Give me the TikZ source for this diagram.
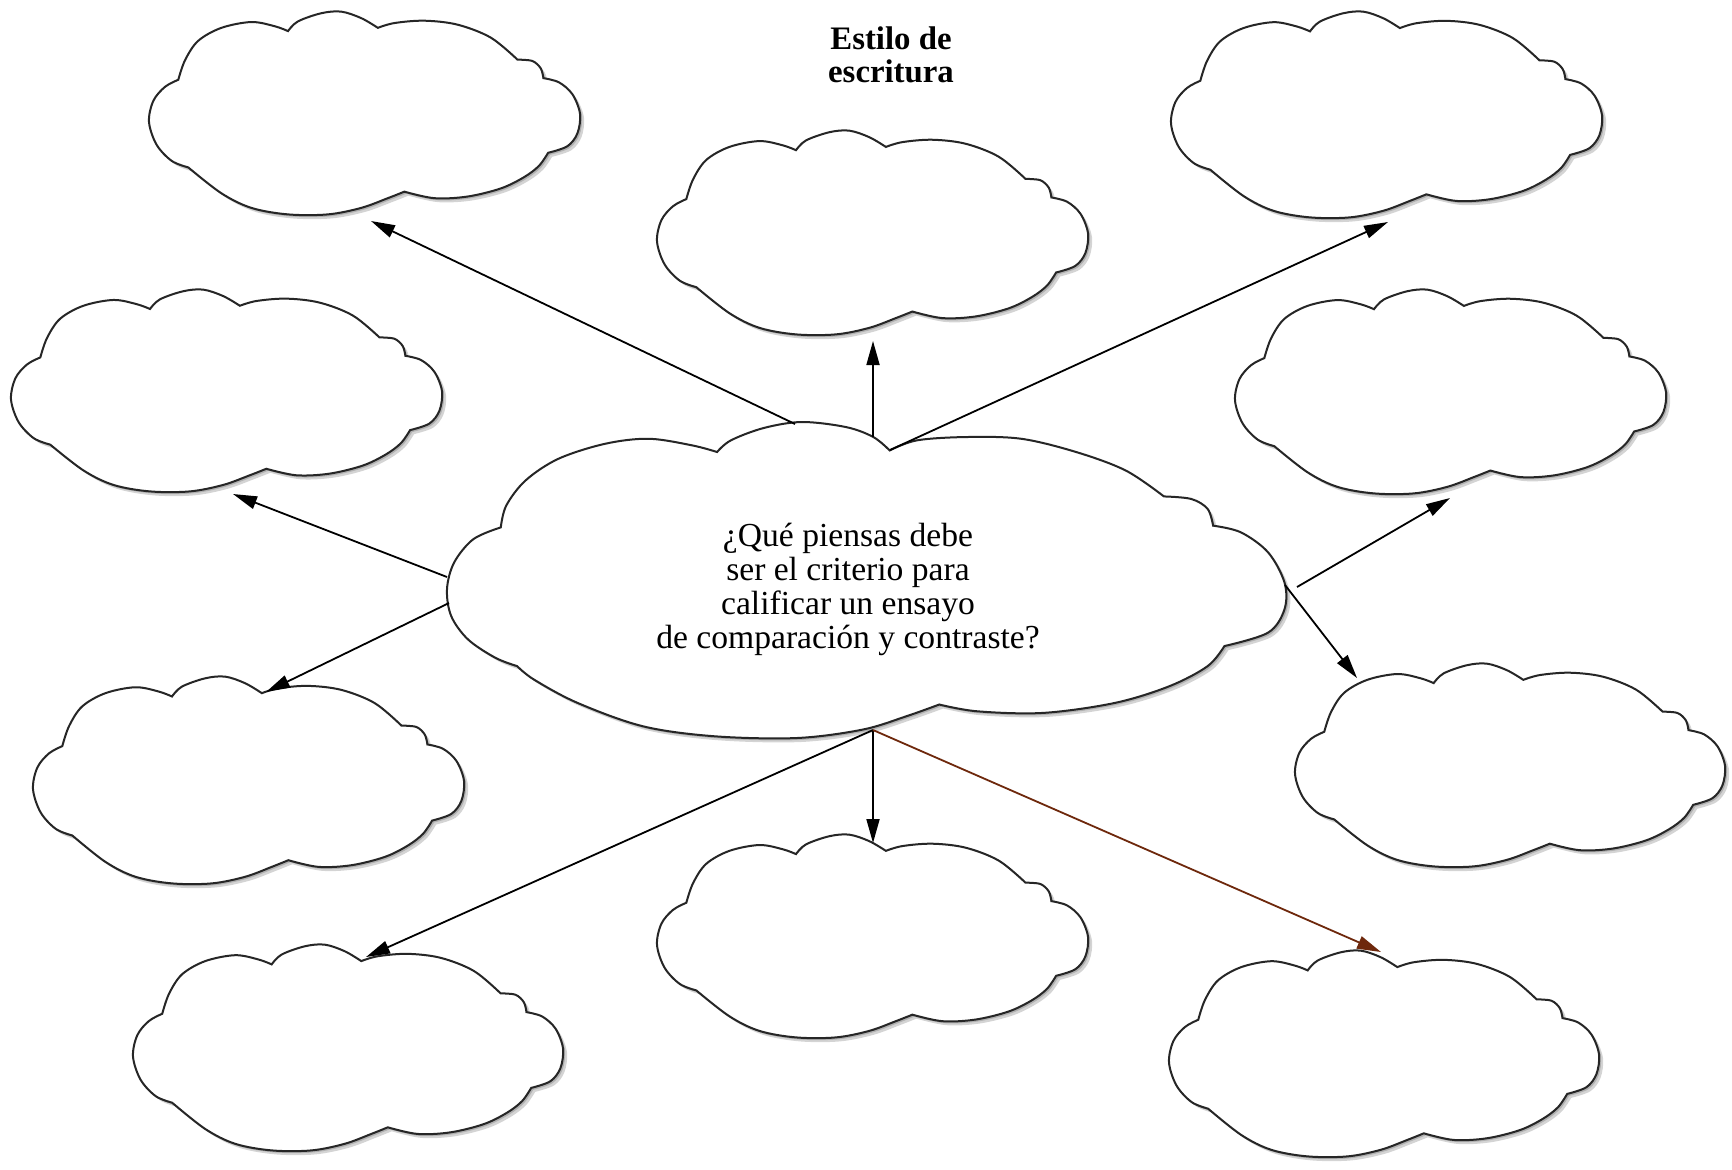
\documentclass[tikz,border=0pt]{standalone}
\usepackage{fontspec}
\setmainfont{Liberation Serif}
\usetikzlibrary{arrows.meta}
\definecolor{arrowbrown}{RGB}{110,40,12}
\tikzset{
  cloudline/.style={draw=black!85, line width=1pt, fill=white},
  cloudshadow/.style={fill=black, opacity=0.17},
  cloudnode/.style={shape=rectangle, inner sep=0pt, draw=none},
  conn/.style={line width=0.9pt, -{Triangle[length=12pt,width=6.5pt]}},
  brownconn/.style={conn, draw=arrowbrown, fill=arrowbrown},
  titletext/.style={font=\bfseries\fontsize{16.4}{16.2}\selectfont, align=center, inner sep=0pt},
  bodytext/.style={font=\fontsize{16.8}{17}\selectfont, align=center, inner sep=0pt},
}
\newcommand\outercloudpath{%
  plot[smooth,tension=.55] coordinates {(-0.864,-0.326) (-0.833,-0.517) (-0.772,-0.707) (-0.664,-0.835) (-0.525,-0.892) (-0.417,-0.851) (-0.355,-0.803)}
  -- plot[smooth,tension=.55] coordinates {(-0.355,-0.803) (-0.309,-0.898) (-0.201,-0.978) (-0.108,-0.994) (-0.015,-0.930) (0.062,-0.835)}
  -- plot[smooth,tension=.55] coordinates {(0.062,-0.835) (0.139,-0.882) (0.278,-0.905) (0.432,-0.866) (0.586,-0.739) (0.710,-0.523)}
  -- plot[smooth,tension=.55] coordinates {(0.710,-0.523) (0.779,-0.510) (0.818,-0.437) (0.830,-0.342)}
  -- plot[smooth,tension=.55] coordinates {(0.830,-0.342) (0.903,-0.300) (0.965,-0.183) (1.000,0.008) (0.988,0.199) (0.941,0.326) (0.852,0.390)}
  -- plot[smooth,tension=.55] coordinates {(0.852,0.390) (0.810,0.517) (0.741,0.628) (0.633,0.739) (0.478,0.819) (0.324,0.835) (0.185,0.771)}
  -- plot[smooth,tension=.55] coordinates {(0.185,0.771) (0.108,0.835) (-0.015,0.930) (-0.170,0.994) (-0.355,0.994) (-0.525,0.930) (-0.664,0.787) (-0.818,0.533)}
  -- plot[smooth,tension=.55] coordinates {(-0.818,0.533) (-0.895,0.469) (-0.965,0.310) (-1.000,0.087) (-0.980,-0.119) (-0.926,-0.256) (-0.864,-0.326)}
  -- cycle}
\newcommand\centercloudpath{%
  plot[smooth,tension=.55] coordinates {(-0.872,-0.333) (-0.859,-0.471) (-0.813,-0.630) (-0.735,-0.767) (-0.624,-0.862) (-0.520,-0.894) (-0.416,-0.852) (-0.357,-0.810)}
  -- plot[smooth,tension=.55] coordinates {(-0.357,-0.810) (-0.324,-0.884) (-0.246,-0.962) (-0.155,-1.000) (-0.050,-0.968) (0.015,-0.905) (0.054,-0.820)}
  -- plot[smooth,tension=.55] coordinates {(0.054,-0.820) (0.119,-0.884) (0.237,-0.905) (0.367,-0.894) (0.498,-0.810) (0.616,-0.693) (0.707,-0.529)}
  -- plot[smooth,tension=.55] coordinates {(0.707,-0.529) (0.772,-0.513) (0.811,-0.450) (0.824,-0.344)}
  -- plot[smooth,tension=.55] coordinates {(0.824,-0.344) (0.890,-0.302) (0.955,-0.175) (0.994,0.016) (0.994,0.185) (0.955,0.333) (0.851,0.418)}
  -- plot[smooth,tension=.55] coordinates {(0.851,0.418) (0.811,0.545) (0.720,0.672) (0.590,0.778) (0.420,0.841) (0.263,0.831) (0.172,0.788)}
  -- plot[smooth,tension=.55] coordinates {(0.172,0.788) (0.094,0.862) (-0.011,0.947) (-0.167,1.000) (-0.363,0.989) (-0.533,0.926) (-0.689,0.778) (-0.793,0.630) (-0.833,0.545)}
  -- plot[smooth,tension=.55] coordinates {(-0.833,0.545) (-0.885,0.492) (-0.950,0.376) (-0.990,0.228) (-1.000,0.058) (-0.983,-0.111) (-0.937,-0.259) (-0.872,-0.333)}
  -- cycle}
% #1 name, #2 path macro, #3 cx, #4 cy, #5 half width, #6 half height (all in px units)
\newcommand\drawcloud[6]{%
  \begin{scope}[shift={(#3+4,#4+4)}, xscale=#5, yscale=#6]
    \path[cloudshadow] #2;
  \end{scope}
  \begin{scope}[shift={(#3+2,#4+2)}, xscale=#5, yscale=#6]
    \path[cloudshadow] #2;
  \end{scope}
  \begin{scope}[shift={(#3,#4)}, xscale=#5, yscale=#6]
    \path[cloudline] #2;
  \end{scope}
  \node[cloudnode, minimum width=#5pt, minimum height=#6pt] (#1) at (#3,#4) {};
}
\begin{document}
\begin{tikzpicture}[x=0.5pt, y=-0.5pt]
  \useasboundingbox (0,0) rectangle (1732,1169);
  \fill[white] (0,0) rectangle (1732,1169);

  % clouds
  \drawcloud{tl}{\outercloudpath}{364.5}{113}{215.5}{102}
  \drawcloud{tc}{\outercloudpath}{872.5}{232.5}{215.5}{102.5}
  \drawcloud{tr}{\outercloudpath}{1386.5}{114.5}{215.5}{103.5}
  \drawcloud{lm}{\outercloudpath}{226.5}{390.5}{215.5}{101.5}
  \drawcloud{rm}{\outercloudpath}{1450.5}{391.5}{215.5}{102.5}
  \drawcloud{ll}{\outercloudpath}{248.5}{780}{215.5}{104}
  \drawcloud{rl}{\outercloudpath}{1510}{765}{215}{102}
  \drawcloud{bl}{\outercloudpath}{348}{1047.5}{215}{103.5}
  \drawcloud{bc}{\outercloudpath}{872.5}{936}{215.5}{102}
  \drawcloud{br}{\outercloudpath}{1384}{1053.5}{215}{103.5}
  \drawcloud{ctr}{\centercloudpath}{867}{580}{420}{158}

  % texts
  \node[titletext] (title) at (891,55) {Estilo de\\escritura};
  \node[bodytext] (question) at (848,589) {¿Qué piensas debe\\ser el criterio para\\calificar un ensayo\\de comparación y contraste?};

  % connector end points
  \coordinate (s-tl) at (795,424);
  \coordinate (s-tc) at (873,437);
  \coordinate (s-tr) at (890,450);
  \coordinate (s-lm) at (447,577);
  \coordinate (s-ll) at (449,603);
  \coordinate (s-rm) at (1297,587);
  \coordinate (s-rl) at (1285,585);
  \coordinate (s-bot) at (873,730);

  \coordinate (e-tl) at (371,221);
  \coordinate (e-tc) at (873,341);
  \coordinate (e-tr) at (1388,222);
  \coordinate (e-lm) at (233,494);
  \coordinate (e-ll) at (266,692);
  \coordinate (e-rm) at (1450,498);
  \coordinate (e-rl) at (1357,678);
  \coordinate (e-bl) at (366,957);
  \coordinate (e-bc) at (873,843);
  \coordinate (e-br) at (1381,952);

  % connectors
  \draw[conn] (s-tl) -- (e-tl);
  \draw[conn] (s-tc) -- (e-tc);
  \draw[conn] (s-tr) -- (e-tr);
  \draw[conn] (s-lm) -- (e-lm);
  \draw[conn] (s-ll) -- (e-ll);
  \draw[conn] (s-rm) -- (e-rm);
  \draw[conn] (s-rl) -- (e-rl);
  \draw[conn] (s-bot) -- (e-bl);
  \draw[conn] (s-bot) -- (e-bc);
  \draw[brownconn] (s-bot) -- (e-br);
\end{tikzpicture}
\end{document}
